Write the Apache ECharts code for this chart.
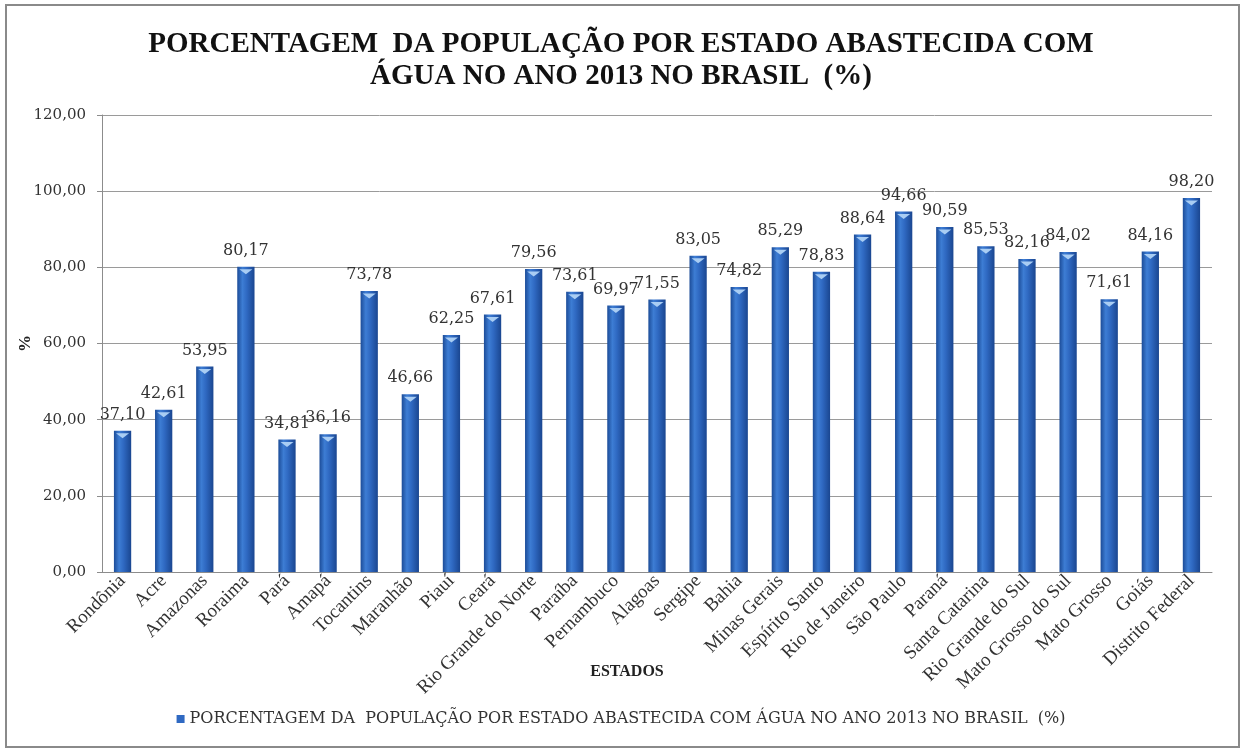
<!DOCTYPE html>
<html>
<head>
<meta charset="utf-8">
<style>
  html, body { margin: 0; padding: 0; background: #fff; }
  #chart { width: 1242px; height: 749px; }
</style>
<script src="https://cdn.jsdelivr.net/npm/echarts@6/dist/echarts.min.js"></script>
</head>
<body>
<div id="chart"></div>
<script>
// States of Brazil, in the order shown along the x axis
const estados = [
  'Rondônia', 'Acre', 'Amazonas', 'Roraima', 'Pará', 'Amapá', 'Tocantins',
  'Maranhão', 'Piauí', 'Ceará', 'Rio Grande do Norte', 'Paraíba', 'Pernambuco',
  'Alagoas', 'Sergipe', 'Bahia', 'Minas Gerais', 'Espírito Santo',
  'Rio de Janeiro', 'São Paulo', 'Paraná', 'Santa Catarina',
  'Rio Grande do Sul', 'Mato Grosso do Sul', 'Mato Grosso', 'Goiás',
  'Distrito Federal'
];

// Share of population supplied with water, 2013 (%)
const abastecimento = [
  37.10, 42.61, 53.95, 80.17, 34.81, 36.16, 73.78,
  46.66, 62.25, 67.61, 79.56, 73.61, 69.97,
  71.55, 83.05, 74.82, 85.29, 78.83,
  88.64, 94.66, 90.59, 85.53,
  82.16, 84.02, 71.61, 84.16,
  98.20
];

const serieNome = 'PORCENTAGEM DA  POPULAÇÃO POR ESTADO ABASTECIDA COM ÁGUA NO ANO 2013 NO BRASIL  (%)';
const titulo = 'PORCENTAGEM  DA POPULAÇÃO POR ESTADO ABASTECIDA COM\nÁGUA NO ANO 2013 NO BRASIL  (%)';

const fmt = v => Number(v).toFixed(2).replace('.', ',');

// cylinder-like shading across each bar
const barGradient = new echarts.graphic.LinearGradient(0, 0, 1, 0, [
  { offset: 0, color: '#1c4c98' },
  { offset: 0.3, color: '#3d7dd4' },
  { offset: 0.55, color: '#2f69c2' },
  { offset: 1, color: '#1a4690' }
]);

const chart = echarts.init(document.getElementById('chart'), null, { renderer: 'canvas' });

chart.setOption({
  backgroundColor: '#ffffff',
  animation: false,
  graphic: [{
    type: 'rect',
    shape: { x: 6, y: 5, width: 1233, height: 742 },
    style: { fill: 'none', stroke: '#8a8a8a', lineWidth: 2 },
    silent: true,
    z: -1
  }],
  title: {
    text: titulo,
    left: 'center',
    top: 24,
    textStyle: {
      fontFamily: 'Liberation Serif',
      fontWeight: 'bold',
      fontSize: 29,
      lineHeight: 32,
      color: '#111'
    }
  },
  legend: {
    top: 706,
    left: 'center',
    itemWidth: 8,
    itemHeight: 8,
    itemGap: 4,
    icon: 'rect',
    textStyle: {
      fontFamily: 'DejaVu Serif',
      fontSize: 16,
      color: '#333'
    },
    data: [{ name: serieNome, itemStyle: { color: '#2f69c2' } }]
  },
  grid: {
    left: 102,
    right: 30,
    top: 115,
    bottom: 177,
    containLabel: false
  },
  xAxis: {
    type: 'category',
    data: estados,
    name: 'ESTADOS',
    nameLocation: 'middle',
    nameGap: 92,
    nameMoveOverlap: false,
    nameTextStyle: {
      fontFamily: 'Liberation Serif',
      fontWeight: 'bold',
      fontSize: 16,
      color: '#222',
      padding: [0, 60, 0, 0]
    },
    axisLine: { lineStyle: { color: '#8c8c8c', width: 1 } },
    axisTick: { show: false },
    axisLabel: {
      rotate: 45,
      interval: 0,
      margin: 6,
      fontFamily: 'Liberation Serif',
      fontSize: 19,
      color: '#333'
    }
  },
  yAxis: {
    type: 'value',
    min: 0,
    max: 120,
    interval: 20,
    name: '%',
    nameLocation: 'middle',
    nameGap: 68,
    nameMoveOverlap: false,
    nameTextStyle: {
      fontFamily: 'Liberation Serif',
      fontWeight: 'bold',
      fontSize: 17,
      color: '#222'
    },
    axisLine: { show: true, lineStyle: { color: '#8c8c8c', width: 1 } },
    axisTick: { show: true, length: 5, lineStyle: { color: '#8c8c8c' } },
    splitLine: { lineStyle: { color: '#9a9a9a', width: 1 } },
    axisLabel: {
      margin: 16,
      formatter: fmt,
      fontFamily: 'DejaVu Serif',
      fontSize: 15,
      color: '#333'
    }
  },
  series: [{
    name: serieNome,
    type: 'bar',
    data: abastecimento,
    barWidth: '42%',
    itemStyle: { color: barGradient },
    label: {
      show: true,
      position: 'top',
      distance: 8,
      formatter: p => fmt(p.value),
      fontFamily: 'DejaVu Serif',
      fontSize: 16,
      color: '#333'
    },
    z: 2
  }, {
    // light cap at the top of each cylinder
    name: 'topo',
    type: 'pictorialBar',
    data: abastecimento,
    symbol: 'path://M0,0 L10,0 L5,4 Z',
    symbolSize: [13, 5],
    symbolPosition: 'end',
    symbolOffset: [0, '50%'],
    itemStyle: { color: '#a9cdf3' },
    silent: true,
    z: 3
  }]
});
</script>
</body>
</html>
